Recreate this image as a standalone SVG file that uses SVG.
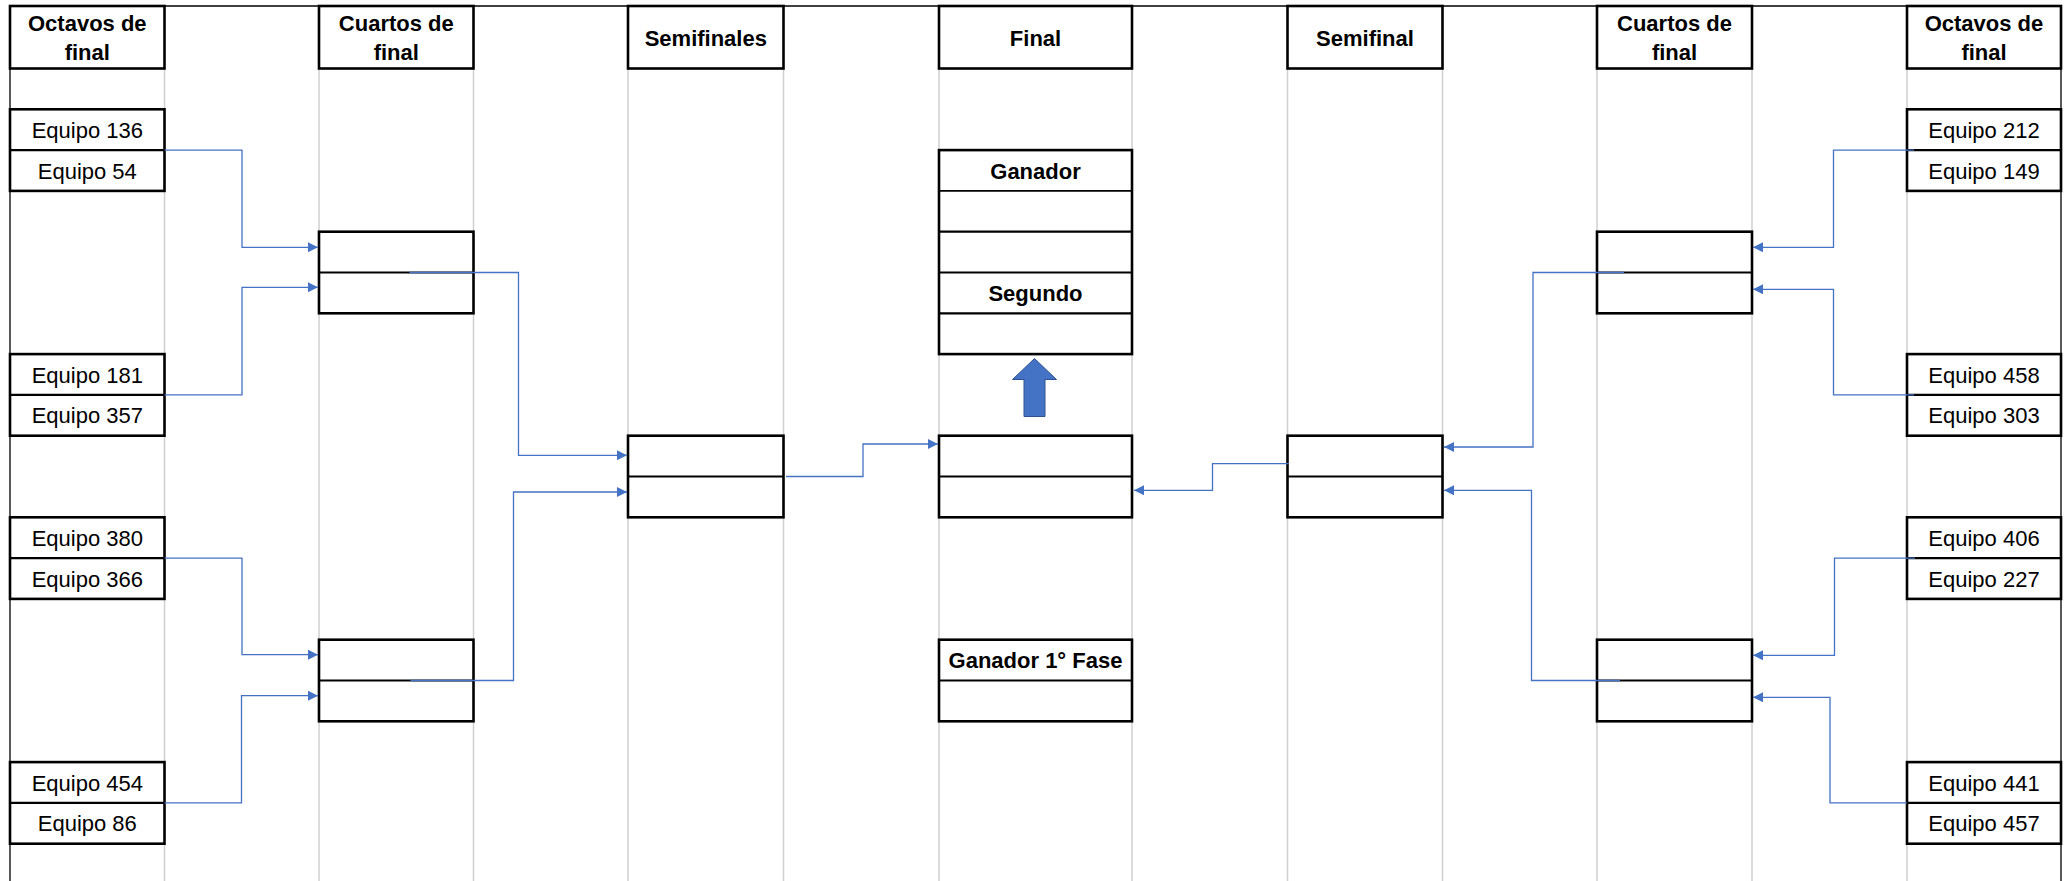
<svg xmlns="http://www.w3.org/2000/svg" width="2069" height="881" viewBox="0 0 2069 881">
<style>
.grid{stroke:#D0D0D0;stroke-width:1.5;fill:none}
.frame{stroke:#000;stroke-width:1.3;fill:none}
.box{fill:#fff;stroke:#000;stroke-width:2.6}
.div{stroke:#000;stroke-width:2.2;fill:none}
.hdr{font-family:"Liberation Sans",Arial,sans-serif;font-size:22px;font-weight:bold;fill:#000;text-anchor:middle}
.team{font-family:"Liberation Sans",Arial,sans-serif;font-size:22px;fill:#000;text-anchor:middle}
.lbl{font-family:"Liberation Sans",Arial,sans-serif;font-size:22px;font-weight:bold;fill:#000;text-anchor:middle}
.con{stroke:#4472C4;stroke-width:1.3;fill:none;marker-end:url(#ah)}
</style>
<defs>
<marker id="ah" markerUnits="userSpaceOnUse" markerWidth="11" markerHeight="11" refX="10" refY="5" orient="auto">
<path d="M0,0 L10,5 L0,10 z" fill="#4472C4"/>
</marker>
</defs>
<rect x="0" y="0" width="2069" height="881" fill="#fff"/>
<g id="grid">
<path class="grid" d="M164.5,68.5V881 M319,68.5V881 M473.5,68.5V881 M628,68.5V881 M783.5,68.5V881 M939,68.5V881 M1132,68.5V881 M1287.5,68.5V881 M1442.5,68.5V881 M1597,68.5V881 M1752,68.5V881 M1907,68.5V881"/>
<path class="frame" d="M10,881V6H2061V881"/>
</g>
<g id="headers">
<rect class="box" x="10" y="6" width="154.5" height="62.5"/>
<text class="hdr" x="87.3" y="30.7">Octavos de</text><text class="hdr" x="87.3" y="60">final</text>
<rect class="box" x="319" y="6" width="154.5" height="62.5"/>
<text class="hdr" x="396.3" y="30.7">Cuartos de</text><text class="hdr" x="396.3" y="60">final</text>
<rect class="box" x="628" y="6" width="155.5" height="62.5"/>
<text class="hdr" x="705.8" y="45.7">Semifinales</text>
<rect class="box" x="939" y="6" width="193" height="62.5"/>
<text class="hdr" x="1035.5" y="45.7">Final</text>
<rect class="box" x="1287.5" y="6" width="155" height="62.5"/>
<text class="hdr" x="1365" y="45.7">Semifinal</text>
<rect class="box" x="1597" y="6" width="155" height="62.5"/>
<text class="hdr" x="1674.5" y="30.7">Cuartos de</text><text class="hdr" x="1674.5" y="60">final</text>
<rect class="box" x="1907" y="6" width="154" height="62.5"/>
<text class="hdr" x="1984" y="30.7">Octavos de</text><text class="hdr" x="1984" y="60">final</text>
</g>
<g id="oct-left-1">
<rect class="box" x="10" y="109.3" width="154.5" height="81.6"/><path class="div" d="M10,150.1H164.5"/>
<text class="team" x="87.3" y="137.8">Equipo 136</text><text class="team" x="87.3" y="178.6">Equipo 54</text>
</g>
<g id="oct-left-2">
<rect class="box" x="10" y="354.1" width="154.5" height="81.6"/><path class="div" d="M10,394.9H164.5"/>
<text class="team" x="87.3" y="382.6">Equipo 181</text><text class="team" x="87.3" y="423.4">Equipo 357</text>
</g>
<g id="oct-left-3">
<rect class="box" x="10" y="517.3" width="154.5" height="81.6"/><path class="div" d="M10,558.1H164.5"/>
<text class="team" x="87.3" y="545.8">Equipo 380</text><text class="team" x="87.3" y="586.6">Equipo 366</text>
</g>
<g id="oct-left-4">
<rect class="box" x="10" y="762.1" width="154.5" height="81.6"/><path class="div" d="M10,802.9H164.5"/>
<text class="team" x="87.3" y="790.6">Equipo 454</text><text class="team" x="87.3" y="831.4">Equipo 86</text>
</g>
<g id="oct-right-1">
<rect class="box" x="1907" y="109.3" width="154" height="81.6"/><path class="div" d="M1907,150.1H2061"/>
<text class="team" x="1984" y="137.8">Equipo 212</text><text class="team" x="1984" y="178.6">Equipo 149</text>
</g>
<g id="oct-right-2">
<rect class="box" x="1907" y="354.1" width="154" height="81.6"/><path class="div" d="M1907,394.9H2061"/>
<text class="team" x="1984" y="382.6">Equipo 458</text><text class="team" x="1984" y="423.4">Equipo 303</text>
</g>
<g id="oct-right-3">
<rect class="box" x="1907" y="517.3" width="154" height="81.6"/><path class="div" d="M1907,558.1H2061"/>
<text class="team" x="1984" y="545.8">Equipo 406</text><text class="team" x="1984" y="586.6">Equipo 227</text>
</g>
<g id="oct-right-4">
<rect class="box" x="1907" y="762.1" width="154" height="81.6"/><path class="div" d="M1907,802.9H2061"/>
<text class="team" x="1984" y="790.6">Equipo 441</text><text class="team" x="1984" y="831.4">Equipo 457</text>
</g>
<g id="cuartos-left-1"><rect class="box" x="319" y="231.7" width="154.5" height="81.6"/><path class="div" d="M319,272.5H473.5"/></g>
<g id="cuartos-left-2"><rect class="box" x="319" y="639.7" width="154.5" height="81.6"/><path class="div" d="M319,680.5H473.5"/></g>
<g id="cuartos-right-1"><rect class="box" x="1597" y="231.7" width="155" height="81.6"/><path class="div" d="M1597,272.5H1752"/></g>
<g id="cuartos-right-2"><rect class="box" x="1597" y="639.7" width="155" height="81.6"/><path class="div" d="M1597,680.5H1752"/></g>
<g id="semi-left"><rect class="box" x="628" y="435.7" width="155.5" height="81.6"/><path class="div" d="M628,476.5H783.5"/></g>
<g id="semi-right"><rect class="box" x="1287.5" y="435.7" width="155" height="81.6"/><path class="div" d="M1287.5,476.5H1442.5"/></g>
<g id="final-match"><rect class="box" x="939" y="435.7" width="193" height="81.6"/><path class="div" d="M939,476.5H1132"/></g>
<g id="podio">
<rect class="box" x="939" y="150.1" width="193" height="204"/>
<path class="div" d="M939,190.9H1132" style="stroke-width:1.8"/>
<path class="div" d="M939,231.7H1132 M939,272.5H1132 M939,313.3H1132"/>
<text class="lbl" x="1035.5" y="178.6">Ganador</text>
<text class="lbl" x="1035.5" y="301">Segundo</text>
</g>
<g id="ganador-fase">
<rect class="box" x="939" y="639.7" width="193" height="81.6"/><path class="div" d="M939,680.5H1132"/>
<text class="lbl" x="1035.5" y="668.2">Ganador 1° Fase</text>
</g>
<g id="big-arrow">
<polygon points="1034.5,358.5 1056.5,379.5 1045,379.5 1045,416.5 1024,416.5 1024,379.5 1012.5,379.5" fill="#4472C4" stroke="#2F528F" stroke-width="1"/>
</g>
<g id="connectors">
<path class="con" d="M164.5,150.1H242V247.3H318"/>
<path class="con" d="M164.5,394.9H242V287.3H318"/>
<path class="con" d="M164.5,558.1H242V654.7H318"/>
<path class="con" d="M164.5,802.9H241.5V695.7H318"/>
<path class="con" d="M409.5,272.5H518.5V455.3H627"/>
<path class="con" d="M410.5,680.5H513.5V492H627"/>
<path class="con" d="M786,476.5H863V444H938"/>
<path class="con" d="M1289,463.7H1212.5V490.3H1134"/>
<path class="con" d="M1914,150.1H1833.5V247.3H1753"/>
<path class="con" d="M1914,394.9H1833.5V289.3H1753"/>
<path class="con" d="M1915,558.1H1834.5V655.3H1753"/>
<path class="con" d="M1907,802.9H1830V697.3H1753"/>
<path class="con" d="M1624,272.5H1533V447H1444"/>
<path class="con" d="M1620,680.5H1531.5V490.3H1444"/>
</g>
</svg>
